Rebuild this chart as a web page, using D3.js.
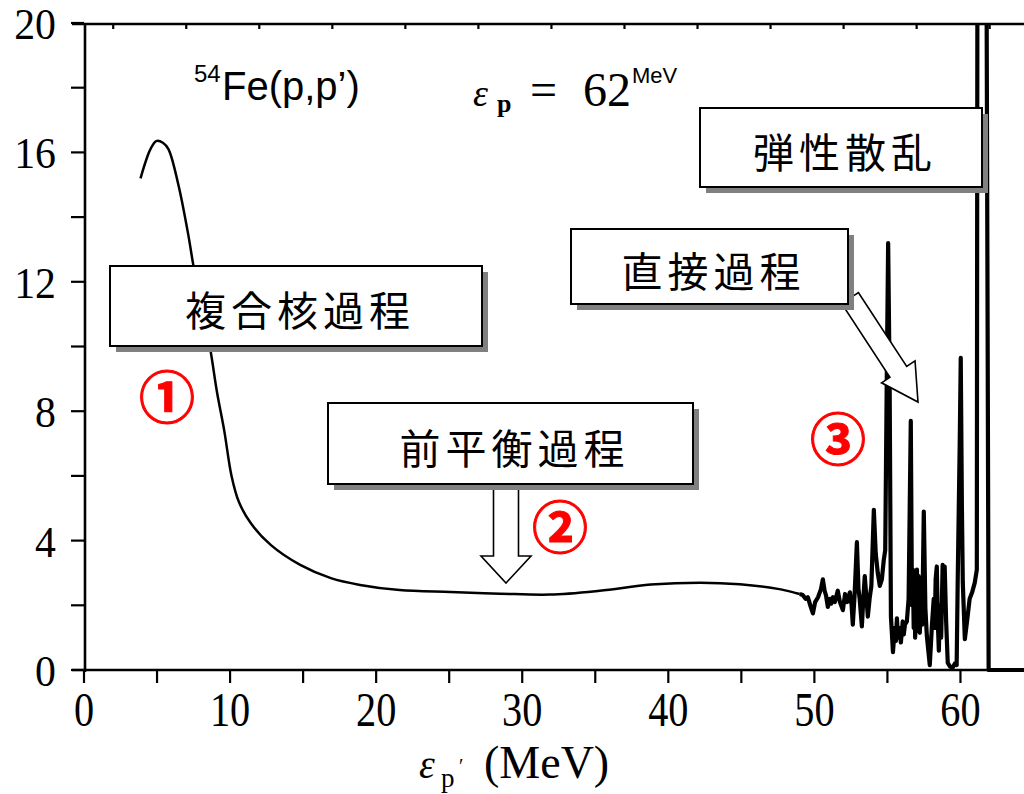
<!DOCTYPE html>
<html>
<head>
<meta charset="utf-8">
<script src="https://cdn.jsdelivr.net/npm/d3@7"></script>
<style>
  html, body { margin: 0; padding: 0; background: #fff; }
  svg { display: block; }
</style>
</head>
<body>
<svg id="chart" width="1024" height="794"></svg>
<script>
// Proton emission spectrum of 54Fe(p,p') at 62 MeV incident energy.
// Smooth continuum (evaporation + pre-equilibrium part), energy in MeV and yield.
const continuumEnergy = [3.87, 4.55, 4.95, 5.4, 5.78, 6.46, 7.14, 7.49, 8.1, 8.65, 9.1, 9.6, 10.1, 10.6, 11.4, 12.8, 14.8, 16.9, 18.9, 21.6, 25.1, 28.5, 31.9, 35.3, 38.8, 42.2, 44.9, 47.6, 49.0];
const continuumYield  = [15.2, 16.1, 16.35, 16.3, 16.1, 15.0, 13.45, 12.5, 11.1, 9.9, 8.6, 7.4, 6.0, 5.2, 4.55, 3.86, 3.25, 2.84, 2.63, 2.47, 2.41, 2.36, 2.33, 2.45, 2.64, 2.7, 2.65, 2.5, 2.35];

// High-energy end: discrete levels (direct reactions) and the elastic peak.
const discreteEnergy = [49.0, 49.2, 49.4, 49.55, 49.75, 49.9, 50.05, 50.25, 50.45, 50.58, 50.7, 50.8, 50.92, 51.05, 51.15, 51.27, 51.4, 51.6, 51.75, 51.95, 52.1, 52.25, 52.43, 52.55, 52.63, 52.75, 52.91, 53.02, 53.1, 53.25, 53.35, 53.45, 53.55, 53.66, 53.78, 53.9, 54.07, 54.2, 54.34, 54.48, 54.62, 54.75, 54.85, 54.96, 55.05, 55.15, 55.24, 55.38, 55.5, 55.58, 55.65, 55.72, 55.8, 55.92, 56.05, 56.12, 56.2, 56.33, 56.45, 56.6, 56.68, 56.74, 56.8, 56.85, 56.9, 56.95, 57.02, 57.08, 57.14, 57.22, 57.3, 57.38, 57.49, 57.6, 57.7, 57.8, 57.9, 58.05, 58.17, 58.24, 58.3, 58.38, 58.45, 58.52, 58.6, 58.68, 58.78, 58.85, 58.92, 59.02, 59.13, 59.3, 59.47, 59.62, 59.74, 59.81, 59.95, 60.02, 60.1, 60.16, 60.3, 60.45, 60.63, 60.8, 60.98, 61.12, 61.2, 61.66, 61.93, 64.5];
const discreteYield  = [2.35, 2.32, 2.2, 2.25, 1.95, 1.75, 2.1, 2.25, 2.5, 2.8, 2.45, 2.3, 1.95, 2.2, 2.05, 2.25, 2.1, 2.45, 2.1, 1.85, 2.35, 2.1, 2.4, 2.0, 1.4, 2.3, 3.95, 2.5, 2.2, 1.35, 2.2, 2.9, 2.3, 1.65, 2.2, 2.6, 4.95, 3.6, 3.0, 2.6, 2.8, 3.4, 3.7, 9.2, 13.2, 9.0, 1.65, 0.55, 1.3, 0.9, 1.6, 1.0, 1.3, 0.85, 1.5, 1.1, 1.4, 1.5, 2.2, 7.7, 2.0, 3.1, 1.3, 2.8, 1.0, 2.6, 3.1, 1.2, 2.9, 1.15, 2.5, 1.4, 4.9, 1.9, 1.05, 0.6, 0.15, 1.4, 2.2, 1.3, 2.8, 3.2, 1.5, 0.6, 2.0, 1.0, 3.25, 2.4, 3.2, 1.5, 0.22, 0.1, 0.08, 0.2, 0.15, 2.7, 7.0, 9.65, 5.0, 2.7, 0.95, 1.5, 2.2, 2.4, 2.7, 3.1, 40, 40, 0, 0];

const xTickValues = [0, 10, 20, 30, 40, 50, 60];
const xMinorTicks = [5, 15, 25, 35, 45, 55];
const topTicks = [2, 7, 12, 17, 22, 27, 32, 37, 42, 47, 52, 57, 62];
const yTickValues = [0, 4, 8, 12, 16, 20];
const yMinorTicks = [2, 6, 10, 14, 18];

const svg = d3.select("#chart");
const W = 1024, H = 794;
svg.append("rect").attr("width", W).attr("height", H).attr("fill", "#fff");

const x = d3.scaleLinear().domain([0, 64.35]).range([84, 1024]);
const y = d3.scaleLinear().domain([0, 20]).range([670, 23]);

const serif = "'Liberation Serif', 'Times New Roman', serif";
const sans = "'Liberation Sans', Arial, sans-serif";
const cjk = "'Noto Sans CJK JP', 'Noto Sans CJK SC', sans-serif";

// ---- axes frame ----
const axisG = svg.append("g").attr("stroke", "#000").attr("fill", "none");
axisG.append("line").attr("x1", 72).attr("x2", W).attr("y1", y(0)).attr("y2", y(0)).attr("stroke-width", 2.6);
axisG.append("line").attr("x1", 72).attr("x2", W).attr("y1", y(20)+1).attr("y2", y(20)+1).attr("stroke-width", 2.6);
axisG.append("line").attr("x1", x(0)+1).attr("x2", x(0)+1).attr("y1", y(20)).attr("y2", y(0)+2).attr("stroke-width", 2.6);

// bottom ticks (outward)
axisG.selectAll(".xt").data(xTickValues.concat(xMinorTicks)).join("line")
  .attr("x1", d => x(d)).attr("x2", d => x(d))
  .attr("y1", y(0)).attr("y2", y(0) + 13).attr("stroke-width", 2.2);
// top ticks (inward)
axisG.selectAll(".tt").data(topTicks).join("line")
  .attr("x1", d => x(d)).attr("x2", d => x(d))
  .attr("y1", y(20)).attr("y2", y(20) + 6).attr("stroke-width", 2.2);
// left ticks (outward)
axisG.selectAll(".yt").data(yTickValues.concat(yMinorTicks)).join("line")
  .attr("x1", x(0) - 13).attr("x2", x(0))
  .attr("y1", d => y(d)).attr("y2", d => y(d)).attr("stroke-width", 2.2);

// tick labels (narrow serif digits)
const labelG = svg.append("g").attr("font-family", serif).attr("fill", "#000");
labelG.selectAll(".xl").data(xTickValues).join("text")
  .attr("font-size", 48)
  .attr("text-anchor", "middle")
  .attr("transform", d => `translate(${x(d)},726) scale(0.84,1)`)
  .text(d => d);
labelG.selectAll(".yl").data(yTickValues).join("text")
  .attr("font-size", 44)
  .attr("text-anchor", "end")
  .attr("transform", d => `translate(56,${y(d) + 16}) scale(0.95,1)`)
  .text(d => d);

// x-axis title: ε_p′ (MeV)
const xt = svg.append("text").attr("font-family", serif).attr("fill", "#000").attr("y", 778);
xt.append("tspan").attr("x", 419).attr("font-size", 40).attr("font-style", "italic").text("ε");
xt.append("tspan").attr("x", 441).attr("dy", 9).attr("font-size", 27).text("p");
xt.append("tspan").attr("x", 459).attr("dy", -14).attr("font-size", 20).text("′");
xt.append("tspan").attr("x", 484).attr("dy", 5).attr("font-size", 46).text("(MeV)");

// ---- spectrum ----
const defs = svg.append("defs");
defs.append("clipPath").attr("id", "plotClip").append("rect")
  .attr("x", x(0)).attr("y", y(20)).attr("width", W - x(0)).attr("height", y(0) - y(20) + 2);

const plot = svg.append("g").attr("clip-path", "url(#plotClip)");
const continuum = continuumEnergy.map((e, i) => [e, continuumYield[i]]);
const discrete = discreteEnergy.map((e, i) => [e, discreteYield[i]]);

plot.append("path")
  .attr("d", d3.line().x(d => x(d[0])).y(d => y(d[1])).curve(d3.curveCatmullRom.alpha(0.5))(continuum))
  .attr("fill", "none").attr("stroke", "#000").attr("stroke-width", 2.5);
plot.append("path")
  .attr("d", d3.line().x(d => x(d[0])).y(d => y(d[1]))(discrete))
  .attr("fill", "none").attr("stroke", "#000").attr("stroke-width", 4.2)
  .attr("stroke-linejoin", "round");

// ---- title texts ----
const t1 = svg.append("text").attr("font-family", sans).attr("fill", "#000").attr("y", 100);
t1.append("tspan").attr("x", 194).attr("dy", -18).attr("font-size", 24).text("54");
t1.append("tspan").attr("x", 222).attr("dy", 18).attr("font-size", 40).text("Fe(p,p’)");

const t2 = svg.append("text").attr("fill", "#000").attr("y", 106);
t2.append("tspan").attr("x", 473).attr("font-family", serif).attr("font-style", "italic").attr("font-size", 38).text("ε");
t2.append("tspan").attr("x", 497).attr("dy", 6).attr("font-family", serif).attr("font-weight", "bold").attr("font-size", 26).text("p");
t2.append("tspan").attr("x", 530).attr("dy", -6).attr("font-family", serif).attr("font-size", 48).text("=");
t2.append("tspan").attr("x", 583).attr("font-family", serif).attr("font-size", 48).text("62");
t2.append("tspan").attr("x", 632).attr("dy", -23).attr("font-family", sans).attr("font-size", 22).text("MeV");

// ---- block arrows ----
function blockArrow(tail, tip, shaftHalf, headHalf, headLen) {
  const dx = tip[0] - tail[0], dy = tip[1] - tail[1];
  const len = Math.hypot(dx, dy);
  const u = [dx / len, dy / len], n = [u[1], -u[0]];
  const p = (a, b) => [tail[0] + u[0] * a + n[0] * b, tail[1] + u[1] * a + n[1] * b];
  const s = len - headLen;
  return [p(0, shaftHalf), p(s, shaftHalf), p(s, headHalf), p(len, 0), p(s, -headHalf), p(s, -shaftHalf), p(0, -shaftHalf)];
}
const arrowG = svg.append("g");
[blockArrow([506, 486], [506, 583], 12.5, 25, 27),
 blockArrow([850, 298], [918, 402], 10, 20, 36)].forEach(pts => {
  arrowG.append("polygon")
    .attr("points", pts.map(p => p.join(",")).join(" "))
    .attr("fill", "#fff").attr("stroke", "#000").attr("stroke-width", 1.6);
});

// ---- labelled boxes ----
const boxes = [
  { label: "複合核過程", x0: 110, y0: 266, x1: 482, y1: 346 },
  { label: "前平衡過程", x0: 328, y0: 403, x1: 693, y1: 484 },
  { label: "直接過程", x0: 571, y0: 229, x1: 848, y1: 304 },
  { label: "弾性散乱", x0: 700, y0: 108, x1: 982, y1: 187 }
];
const boxG = svg.append("g");
boxes.forEach(b => {
  boxG.append("rect").attr("x", b.x0 + 6).attr("y", b.y0 + 6)
    .attr("width", b.x1 - b.x0).attr("height", b.y1 - b.y0).attr("fill", "#808080");
  boxG.append("rect").attr("x", b.x0).attr("y", b.y0)
    .attr("width", b.x1 - b.x0).attr("height", b.y1 - b.y0)
    .attr("fill", "#fff").attr("stroke", "#000").attr("stroke-width", 2);
  boxG.append("text")
    .attr("x", (b.x0 + b.x1) / 2 + 4).attr("y", (b.y0 + b.y1) / 2 + 2)
    .attr("text-anchor", "middle").attr("dominant-baseline", "central")
    .attr("font-family", cjk).attr("font-size", 41).attr("letter-spacing", 5)
    .attr("fill", "#000").text(b.label);
});

// ---- circled region markers ----
const markers = [
  { text: "①", cx: 167, cy: 393 },
  { text: "②", cx: 560, cy: 523 },
  { text: "③", cx: 838, cy: 435 }
];
svg.append("g").selectAll("text").data(markers).join("text")
  .attr("x", d => d.cx).attr("y", d => d.cy)
  .attr("text-anchor", "middle").attr("dominant-baseline", "central")
  .attr("font-family", cjk).attr("font-weight", 700).attr("font-size", 56)
  .attr("fill", "#ff0000").attr("stroke", "#ff0000").attr("stroke-width", 1)
  .text(d => d.text);
</script>
</body>
</html>
